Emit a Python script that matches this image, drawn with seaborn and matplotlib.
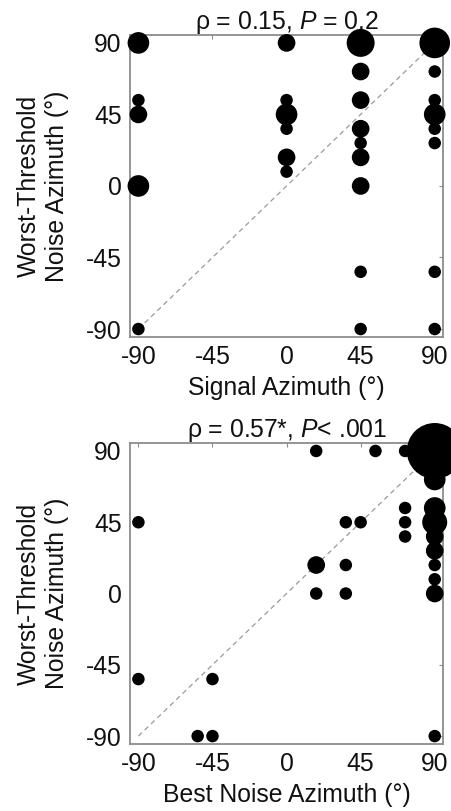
import numpy as np
import pandas as pd
import matplotlib
matplotlib.use("Agg")
import matplotlib.pyplot as plt
import seaborn as sns

# --------------------------------------------------------------
# Data (n = number of overlapping cases)
# --------------------------------------------------------------
signal_az = [-90, -90, -90, -90, -90,
             0, 0, 0, 0, 0, 0,
             45, 45, 45, 45, 45, 45, 45, 45, 45,
             90, 90, 90, 90, 90, 90, 90, 90]
signal_worst = [90, 54, 45, 0, -90,
                90, 54, 45, 36, 18, 9,
                90, 72, 54, 36, 27, 18, 0, -54, -90,
                90, 72, 54, 45, 36, 27, -54, -90]
signal_n = [3, 1, 2, 3, 1,
            2, 1, 3, 1, 2, 1,
            5, 2, 2, 2, 1, 2, 2, 1, 1,
            6, 1, 1, 3, 1, 1, 1, 1]

best_az = [-90, -90, -45, -54, -45,
           18, 54, 72, 36, 45,
           72, 72, 72,
           18, 36, 18, 36,
           90, 90, 90, 90, 90, 90, 90, 90, 90, 90]
best_worst = [45, -54, -54, -90, -90,
              90, 90, 90, 45, 45,
              54, 45, 36,
              18, 18, 0, 0,
              90, 72, 54, 45, 36, 27, 18, 9, 0, -90]
best_n = [1, 1, 1, 1, 1,
          1, 1, 1, 1, 1,
          1, 1, 1,
          2, 1, 1, 1,
          20, 3, 3, 4, 2, 2, 1, 1, 2, 1]

ticks = [-90, -45, 0, 45, 90]
unity = [-90, 90]

titles = ["\u03c1 = 0.15, $\\mathit{P}$ = 0.2",
          "\u03c1 = 0.57*, $\\mathit{P}$< .001"]
xlabels = ["Signal Azimuth (\u00b0)", "Best Noise Azimuth (\u00b0)"]
ylabel = "Worst-Threshold\nNoise Azimuth (\u00b0)"

# --------------------------------------------------------------
# Style
# --------------------------------------------------------------
sns.set_style("white")
plt.rcParams["font.family"] = ["Liberation Sans", "DejaVu Sans"]
plt.rcParams["mathtext.fontset"] = "custom"
plt.rcParams["mathtext.rm"] = "Liberation Sans"
plt.rcParams["mathtext.it"] = "Liberation Sans:italic"
plt.rcParams["axes.unicode_minus"] = False
plt.rcParams["font.size"] = 18

grey = "#8c8c8c"
txt = "#111111"
fs = 17.8
base_area = (12.5 * 0.72) ** 2  # one case ~12 px across

fig = plt.figure(figsize=(4.52, 8.11), dpi=100)
ax_top = fig.add_axes([0.288, 0.5845, 0.692, 0.3724])
ax_bot = fig.add_axes([0.288, 0.0826, 0.692, 0.3711])

panels = [
    (ax_top, pd.DataFrame({"x": signal_az, "y": signal_worst, "n": signal_n})),
    (ax_bot, pd.DataFrame({"x": best_az, "y": best_worst, "n": best_n})),
]

for i, (ax, df) in enumerate(panels):
    ax.plot(unity, unity, ls=(0, (4, 3)), color="#9a9a9a", lw=0.9, zorder=1)
    sns.scatterplot(data=df, x="x", y="y", size="n",
                    sizes=(base_area, base_area * 20), size_norm=(1, 20),
                    color="black", edgecolor="none", linewidth=0,
                    legend=False, clip_on=False, zorder=3, ax=ax)

    ax.set_xlim(-95, 95)
    ax.set_ylim(-95, 95)
    ax.set_xticks(ticks)
    ax.set_yticks(ticks)
    ax.tick_params(direction="in", length=3, width=0.8, color=grey,
                   top=True, right=True, labelcolor=txt, pad=6,
                   labelsize=fs)
    for sp in ax.spines.values():
        sp.set_visible(True)
        sp.set_color(grey)
        sp.set_linewidth(1.3)

    ax.set_title(titles[i], fontsize=fs, pad=4, color=txt)
    ax.set_xlabel(xlabels[i], fontsize=fs, labelpad=5, color=txt)
    ax.set_ylabel(ylabel, fontsize=fs, labelpad=12, color=txt,
                  linespacing=1.25)

fig.savefig("out.png", dpi=100)
